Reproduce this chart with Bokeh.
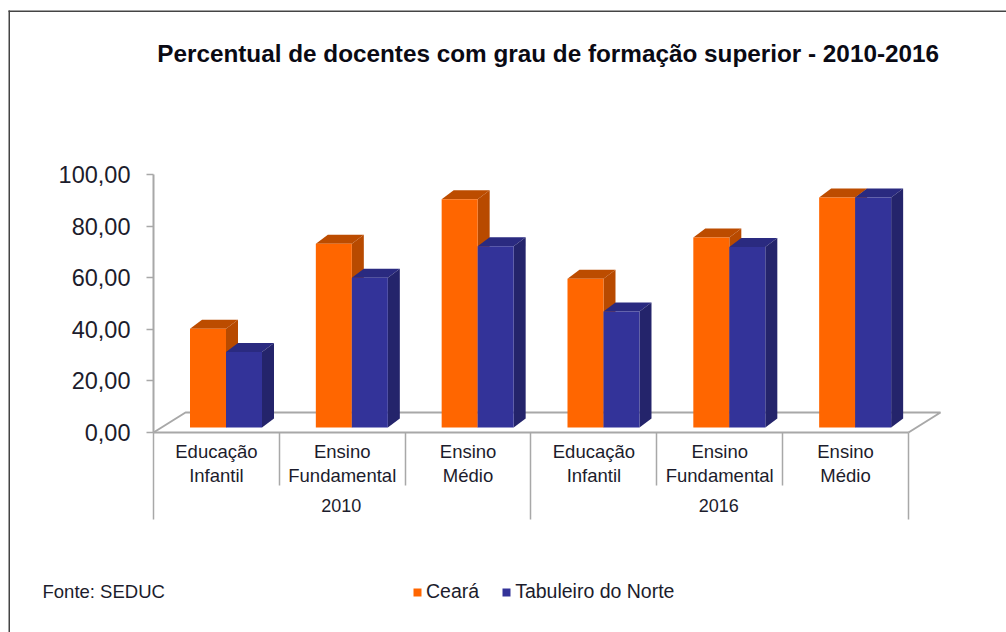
from bokeh.plotting import figure
from bokeh.embed import file_html
from bokeh.resources import INLINE
from bokeh.models import (Range1d, FixedTicker, Label, BoxAnnotation, Legend, LegendItem,
                          ColumnDataSource)

title = "Percentual de docentes com grau de formação superior  - 2010-2016"
source_note = "Fonte: SEDUC"
series_names = ["Ceará", "Tabuleiro do Norte"]
categories = ["Educação\nInfantil", "Ensino\nFundamental", "Ensino\nMédio"] * 2
years = ["2010", "2016"]
ceara = [38.3, 71.2, 88.5, 57.7, 73.6, 89.1]
tabuleiro = [29.3, 58.0, 70.3, 45.0, 70.0, 89.1]
y_ticks = [0, 20, 40, 60, 80, 100]
y_tick_labels = ["0,00", "20,00", "40,00", "60,00", "80,00", "100,00"]

# layout (page pixels)
W, H = 1006, 632
LEFT, RIGHT, TOP, ZERO = 153, 941, 174, 432
PX_X = 125.83
PX_Y = (ZERO - TOP) / 100


def dx(px):
    return (px - LEFT) / PX_X


def dy(py):
    return (ZERO - py) / PX_Y


p = figure(width=W, height=H, output_backend="svg", toolbar_location=None,
           x_range=Range1d(dx(0), dx(W)), y_range=Range1d(dy(H), dy(0)),
           min_border=0)
p.outline_line_color = None
p.grid.visible = False
p.background_fill_color = "white"

GREY = "#a8a8a8"
TXT = "#1c1c2c"
FONT = "Liberation Sans"

ya = p.yaxis[0]
ya.fixed_location = 0
ya.bounds = (0, 100)
ya.ticker = FixedTicker(ticks=y_ticks)
ya.major_label_overrides = dict(zip(y_ticks, y_tick_labels))
ya.major_label_text_font = FONT
ya.major_label_text_font_size = "23.5px"
ya.major_label_text_color = TXT
ya.major_label_standoff = 16
ya.major_tick_in = 0
ya.major_tick_out = 7
ya.minor_tick_line_color = None
ya.axis_line_color = GREY
ya.axis_line_width = 2
ya.major_tick_line_color = GREY
ya.major_tick_line_width = 1.5

xa = p.xaxis[0]
xa.fixed_location = 0
xa.ticker = FixedTicker(ticks=[0, 3, 6], minor_ticks=[1, 2, 4, 5])
xa.bounds = (0, 6)
xa.major_label_overrides = {0: "", 3: "", 6: ""}
xa.major_tick_in = 0
xa.major_tick_out = 87
xa.minor_tick_in = 0
xa.minor_tick_out = 53
xa.axis_line_color = GREY
xa.axis_line_width = 2
xa.major_tick_line_color = GREY
xa.major_tick_line_width = 1.5
xa.minor_tick_line_color = GREY
xa.minor_tick_line_width = 1.5

# floor of the 3D box
fdx, fdy = dx(LEFT + 32), dy(ZERO - 20)
n = len(categories)
p.line([0, fdx, n + fdx, n], [0, fdy, fdy, 0], line_color=GREY, line_width=2)

# bars
BAR = 36 / PX_X
START = 36.5 / PX_X
DEP_X, DEP_Y = 12 / PX_X, 9 / PX_Y
BASE = dy(427)

fills = [("#FF6600", "#BC4C00", "#B84A00"), ("#333399", "#2A2A80", "#24246B")]
legend_items = []
for k, (vals, name) in enumerate(zip([ceara, tabuleiro], series_names)):
    front, top, side = fills[k]
    lefts = [i + START + k * BAR for i in range(n)]
    rights = [l + BAR for l in lefts]
    tops = [BASE + v for v in vals]
    p.patches([[l, l + DEP_X, r + DEP_X, r] for l, r in zip(lefts, rights)],
              [[t, t + DEP_Y, t + DEP_Y, t] for t in tops],
              fill_color=top, line_color=None)
    p.patches([[r, r + DEP_X, r + DEP_X, r] for r in rights],
              [[BASE, BASE + DEP_Y, t + DEP_Y, t] for t in tops],
              fill_color=side, line_color=None)
    src = ColumnDataSource(dict(left=lefts, right=rights, top=tops, bottom=[BASE] * n))
    r = p.quad(left="left", right="right", top="top", bottom="bottom", source=src,
               fill_color=front, line_color=None)
    legend_items.append(LegendItem(label=name, renderers=[r]))

legend = Legend(items=legend_items, orientation="horizontal", location=(412, 630 - 601),
                border_line_color=None, background_fill_alpha=0, padding=0, margin=0,
                glyph_width=10, glyph_height=10, spacing=22, label_standoff=4,
                label_text_font=FONT, label_text_font_size="19.5px", label_text_color=TXT)
p.add_layout(legend, "center")


def text(s, px, py, size, align="center", bold=False, color=TXT, lh=1.2):
    p.add_layout(Label(x=dx(px), y=dy(py), text=s, text_font=FONT, text_font_size=size,
                       text_align=align, text_baseline="middle", text_color=color,
                       text_font_style="bold" if bold else "normal", text_line_height=lh))


text(title, 551, 53, "24.3px", bold=True, color="#0a0a14")
for i, c in enumerate(categories):
    text(c, LEFT + (i + 0.5) * PX_X, 463, "18.5px", lh=1.12)
for j, y in enumerate(years):
    text(y, LEFT + (j * 3 + 1.5) * PX_X - 1, 505, "18px")
text(source_note, 42, 591, "18.5px", align="left")

# page frame lines
for l, r, t, b in [(8, 9.5, 10, 632), (8, 1006, 11.5, 10)]:
    p.add_layout(BoxAnnotation(left=dx(l), right=dx(r), top=dy(b), bottom=dy(t),
                               fill_color="#444444", fill_alpha=1, line_color=None))

open("out.html", "w").write(file_html(p, INLINE))
